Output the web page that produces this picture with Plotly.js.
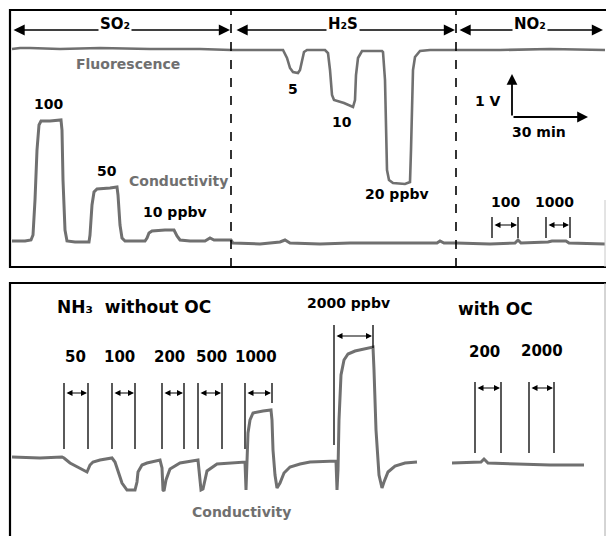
<!DOCTYPE html>
<html><head><meta charset="utf-8">
<script src="https://cdn.plot.ly/plotly-3.0.1.min.js"></script>
<style>html,body{margin:0;padding:0;background:#fff}#chart{width:607px;height:536px}</style>
</head><body><div id="chart"></div>
<script>
// ---- Top panel: SO2 / H2S / NO2 (time a.u., signal a.u.)
const fluorT = [2,10,20,50,90,140,190,221,250,273,277,280,283,288,290,292,294,297,315,318,320,322,324,334,343,345,346,348,352,372,373,375,376,377,379,383,395,400,401,402,403,405,410,420,446,490,540,595];
const fluorV = [218,219,219,218,219,218,218,217,217,217,209,199,195,194,197,207,215,217,217,214,197,172,167,164,160,167,192,209,216,216,215,187,137,97,87,84,83,85,117,167,197,210,216,217,217,217,218,217];
const condTopT = [2,15,21,23,25,27,29,31,40,47,51,52,53,55,57,65,79,80,82,84,87,100,107,108,110,112,115,135,137,139,142,155,164,167,170,180,195,200,204,221,223,250,270,275,280,310,340,390,427,430,434,446,480,505,508,511,538,542,556,559,595];
const condTopV = [26,26,27,32,67,117,142,146,146,147,147,137,87,37,26,25,25,32,62,75,78,79,80,72,42,29,26,26,29,34,36,37,37,31,27,26,26,29,27,27,24,23,25,27,24,23,24,24,24,26,24,24,23,24,27,24,25,26,26,24,23];
const gasNames = ['SO₂','H₂S','NO₂'];
const so2Labels = ['100','50','10 ppbv'];
const h2sLabels = ['5','10','20 ppbv'];
const no2Labels = ['100','1000'];
// ---- Bottom panel: NH3 (time a.u., signal a.u.)
const nh3NoOcT = [2,30,52,54,60,67,77,80,83,90,102,105,108,112,117,125,127,128,132,137,150,152,153,154,156,160,170,188,189,191,193,197,207,220,235,236,237,238,240,243,253,261,262,263,265,267,270,274,280,290,300,315,326,327,328,329,331,334,338,345,355,363,364,366,369,372,374,378,385,395,407];
const nh3NoOcV = [79,78,79,78,73,69,64,71,74,76,78,74,64,53,46,46,54,64,71,73,76,68,46,45,56,67,73,76,66,46,47,65,72,73,74,46,76,103,116,123,125,126,116,86,61,48,53,63,69,72,74,75,75,46,66,116,161,176,182,185,187,189,166,106,61,48,54,64,70,73,74];
const nh3OcT = [442,460,471,474,478,507,540,574];
const nh3OcV = [73,74,74,77,73,72,71,71];
const nh3NoOcLabels = ['50','100','200','500','1000'];
const nh3BigLabel = '2000 ppbv';
const nh3OcLabels = ['200','2000'];

const gray = 'rgb(112,112,112)';
const FONT = 'DejaVu Sans, Arial, sans-serif';
const ann = [], shp = [];
function txt(ax, x, y, t, size, color, extra){
  ann.push(Object.assign({xref:'x'+ax, yref:'y'+ax, x:x, y:y, text:'<b>'+t+'</b>', showarrow:false,
    font:{family:FONT, size:size, color:color||'#000'}}, extra||{}));
}
function arrow(ax, x0, y0, x1, y1, both, size, w){
  ann.push({xref:'x'+ax, yref:'y'+ax, axref:'x'+ax, ayref:'y'+ax, x:x1, y:y1, ax:x0, ay:y0, text:'',
    showarrow:true, arrowhead:2, startarrowhead:2, arrowside: both?'end+start':'end',
    arrowsize:size, startarrowsize:size, arrowwidth:w, arrowcolor:'#000', standoff:0, startstandoff:0});
}
function vline(ax, x, y0, y1, w, dash){
  shp.push({type:'line', xref:'x'+ax, yref:'y'+ax, x0:x, x1:x, y0:y0, y1:y1, line:{color:'#000', width:w, dash:dash||'solid'}});
}
function bracket(ax, xa, xb, ya0, ya1, yb0, yb1, yArr){
  vline(ax, xa, ya0, ya1, 1.3); vline(ax, xb, yb0, yb1, 1.3);
  arrow(ax, xa+1, yArr, xb-1, yArr, true, 1, 1.2);
}
const T='', B='2';
// header arrows
arrow(T, 2, 237, 220, 237, true, 1.4, 1.6);
arrow(T, 225, 237, 445, 237, true, 1.4, 1.6);
arrow(T, 448, 237, 593, 237, true, 1.4, 1.6);
txt(T, 105, 243, gasNames[0], 15, '#000', {bgcolor:'#fff', borderpad:1});
txt(T, 333, 243, gasNames[1], 15, '#000', {bgcolor:'#fff', borderpad:1});
txt(T, 520, 243, gasNames[2], 15, '#000', {bgcolor:'#fff', borderpad:1});
vline(T, 221, 0, 257, 1.6, 'dash');
vline(T, 446, 0, 257, 1.6, 'dash');
txt(T, 118, 203, 'Fluorescence', 14, gray);
txt(T, 168, 86, 'Conductivity', 14, gray);
txt(T, 38, 163, so2Labels[0], 14);
txt(T, 97, 96, so2Labels[1], 14);
txt(T, 165, 55, so2Labels[2], 14);
txt(T, 283, 178, h2sLabels[0], 14);
txt(T, 332, 145, h2sLabels[1], 14);
txt(T, 387, 73, h2sLabels[2], 14);
txt(T, 478, 166, '1 V', 14);
txt(T, 529, 135, '30 min', 14);
arrow(T, 502, 150, 502, 193, false, 1.2, 1.8);
arrow(T, 502, 150, 578, 150, false, 1.2, 1.8);
txt(T, 495, 65, no2Labels[0], 14);
txt(T, 544, 65, no2Labels[1], 14);
bracket(T, 482, 508, 29, 50, 29, 50, 42);
bracket(T, 536, 560, 29, 50, 29, 50, 42);
// bottom panel
txt(B, 45, 229, 'NH₃  without OC', 17, '#000', {xanchor:'left'});
txt(B, 485, 227, 'with OC', 17);
const nx = [65,109,159,201,246];
nh3NoOcLabels.forEach((l,i)=>txt(B, nx[i], 179, l, 15));
bracket(B, 54, 78, 87, 153, 87, 153, 143);
bracket(B, 102, 125, 87, 153, 87, 153, 143);
bracket(B, 152, 174, 87, 153, 87, 153, 143);
bracket(B, 188, 212, 87, 153, 87, 153, 143);
bracket(B, 235, 262, 87, 153, 133, 153, 143);
txt(B, 338, 233, nh3BigLabel, 14);
bracket(B, 324, 363, 91, 211, 188, 211, 200);
txt(B, 474, 184, nh3OcLabels[0], 15);
txt(B, 532, 185, nh3OcLabels[1], 15);
bracket(B, 465, 491, 83, 154, 83, 154, 148);
bracket(B, 519, 544, 83, 154, 83, 154, 148);
txt(B, 231, 24, 'Conductivity', 14, gray);
// boxes (paper coords)
const W=607, H=536;
const px = v=>v/W, py = v=>1-v/H;
shp.push({type:'path', xref:'paper', yref:'paper',
  path:`M ${px(606)} ${py(10)} L ${px(10)} ${py(10)} L ${px(10)} ${py(267)} L ${px(606)} ${py(267)}`,
  line:{color:'#000', width:2.2}});
shp.push({type:'line', xref:'paper', yref:'paper', x0:px(605), x1:px(605), y0:py(267), y1:py(200), line:{color:'#c8c8c8', width:1}});
shp.push({type:'path', xref:'paper', yref:'paper',
  path:`M ${px(10)} ${py(540)} L ${px(10)} ${py(283)} L ${px(606)} ${py(283)}`,
  line:{color:'#000', width:2.2}});
shp.push({type:'line', xref:'paper', yref:'paper', x0:px(605), x1:px(605), y0:py(540), y1:py(283), line:{color:'#aaa', width:1}});

const lineStyle = {color:gray, width:3};
const data = [
  {x:fluorT, y:fluorV, type:'scatter', mode:'lines', line:{color:gray, width:2.6}, xaxis:'x', yaxis:'y', name:'Fluorescence'},
  {x:condTopT, y:condTopV, type:'scatter', mode:'lines', line:lineStyle, xaxis:'x', yaxis:'y', name:'Conductivity'},
  {x:nh3NoOcT, y:nh3NoOcV, type:'scatter', mode:'lines', line:lineStyle, xaxis:'x2', yaxis:'y2', name:'NH3 without OC'},
  {x:nh3OcT, y:nh3OcV, type:'scatter', mode:'lines', line:lineStyle, xaxis:'x2', yaxis:'y2', name:'NH3 with OC'}
];
const hid = {showgrid:false, zeroline:false, showticklabels:false, ticks:'', showline:false, fixedrange:true};
const layout = {
  width:W, height:H, margin:{l:0,r:0,t:0,b:0}, paper_bgcolor:'#fff', plot_bgcolor:'rgba(0,0,0,0)',
  showlegend:false,
  xaxis:Object.assign({domain:[px(10), px(606)], range:[0,596], anchor:'y'}, hid),
  yaxis:Object.assign({domain:[py(267), py(10)], range:[0,257], anchor:'x'}, hid),
  xaxis2:Object.assign({domain:[px(10), px(606)], range:[0,596], anchor:'y2'}, hid),
  yaxis2:Object.assign({domain:[0, py(283)], range:[0,253], anchor:'x2'}, hid),
  annotations:ann, shapes:shp
};
Plotly.newPlot('chart', data, layout, {staticPlot:true, displayModeBar:false});
</script></body></html>
